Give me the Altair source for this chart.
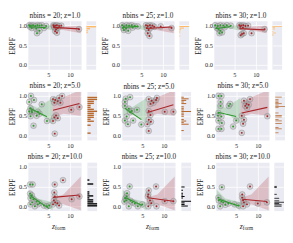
import altair as alt
import pandas as pd

# ---------------- data ----------------
NBINS = [20, 25, 30]
ZVALS = [1.0, 5.0, 10.0]

# row 1 : z = 1.0
r1c1_x = [0.6, 1.0, 1.5, 2.0, 2.5, 3.0, 3.5, 4.5, 1.2, 2.2, 3.0, 2.4, 0.8, 4.0,
          6.2, 6.6, 7.0, 7.5, 8.0, 6.4, 6.8, 7.2, 6.6, 7.0, 12.1, 6.3]
r1c1_y = [1.0, 0.99, 1.0, 0.98, 1.0, 0.99, 1.0, 0.98, 0.93, 0.91, 0.86, 0.8, 0.96, 0.93,
          1.0, 0.99, 1.0, 0.98, 0.99, 0.95, 0.9, 0.93, 0.85, 0.81, 0.9, 0.97]
r1c2_x = [0.6, 1.0, 1.6, 2.2, 2.8, 3.5, 4.2, 1.0, 1.5, 2.0, 0.8, 3.0,
          6.1, 6.5, 7.0, 7.6, 6.3, 6.7, 7.2, 6.5, 6.9, 8.0, 12.0, 9.5]
r1c2_y = [1.0, 0.97, 1.0, 0.99, 1.0, 0.98, 0.97, 0.88, 0.92, 0.86, 0.93, 0.94,
          1.0, 0.98, 1.0, 0.99, 0.93, 0.88, 0.94, 0.8, 0.73, 0.96, 0.93, 0.97]
r1c3_x = [0.6, 1.2, 1.8, 2.5, 3.3, 4.2, 1.0, 1.4, 1.8, 2.2, 1.6, 2.8,
          6.2, 6.6, 7.1, 7.6, 8.2, 6.4, 6.8, 7.2, 6.5, 9.0, 12.0, 7.0]
r1c3_y = [1.0, 0.98, 1.0, 0.99, 1.0, 0.99, 0.93, 0.9, 0.86, 0.82, 0.8, 0.95,
          1.0, 0.99, 1.0, 0.98, 0.99, 0.96, 0.78, 0.8, 0.75, 0.8, 0.9, 0.94]

# row 2 : z = 5.0
r2c1_x = [1.0, 1.7, 3.5, 0.9, 0.6, 1.25, 2.6, 0.9, 2.3, 1.6, 4.7, 1.2, 3.0, 0.6,
          6.1, 6.6, 7.2, 8.2, 6.4, 7.8, 10.3, 6.8, 6.4, 7.2, 6.1, 6.5, 7.5, 12.2]
r2c1_y = [1.0, 0.9, 0.79, 0.69, 0.61, 0.59, 0.6, 0.49, 0.5, 0.25, 0.37, 0.62, 0.55, 0.85,
          0.92, 0.9, 0.87, 1.0, 0.83, 0.83, 0.65, 0.51, 0.46, 0.44, 0.37, 0.05, 0.95, 0.72]
r2c2_x = [1.2, 1.0, 2.2, 1.0, 1.9, 2.2, 1.4, 1.0, 1.7, 2.9, 4.8, 3.8, 2.6,
          6.5, 7.2, 8.2, 6.9, 7.6, 8.4, 6.5, 10.2, 12.2, 6.5, 7.0, 6.2, 6.9, 6.5]
r2c2_y = [0.93, 0.85, 0.97, 0.75, 0.68, 0.59, 0.48, 0.38, 0.29, 0.38, 0.28, 0.65, 0.62,
          0.92, 0.88, 0.9, 0.8, 0.83, 0.95, 0.62, 0.6, 0.6, 0.4, 0.35, 0.29, 0.52, 0.12]
r2c3_x = [0.9, 1.6, 1.4, 1.4, 3.6, 3.3, 0.9, 0.8, 1.6, 0.9, 1.7, 0.9, 1.6, 4.3, 5.0,
          6.8, 7.4, 7.9, 8.2, 7.5, 7.1, 6.3, 6.8, 6.6, 6.3, 12.2]
r2c3_y = [1.0, 1.0, 0.85, 0.75, 0.8, 0.75, 0.57, 0.5, 0.48, 0.38, 0.32, 0.17, 0.17, 0.23, 0.38,
          0.88, 0.8, 0.78, 0.92, 0.7, 0.75, 0.5, 0.4, 0.3, 0.07, 0.49]

# row 3 : z = 10.0
r3c1_x = [0.8, 1.4, 0.8, 1.2, 0.9, 1.6, 2.3, 3.0, 4.0, 1.9, 0.9, 4.7, 5.2, 2.6, 1.3,
          6.5, 8.4, 6.4, 6.5, 6.3, 7.1, 6.1, 7.5, 10.4, 6.6, 12.2]
r3c1_y = [0.55, 0.55, 0.32, 0.28, 0.21, 0.18, 0.12, 0.08, 0.02, 0.0, 0.05, 0.0, 0.02, 0.05, 0.1,
          0.55, 0.66, 0.35, 0.25, 0.15, 0.08, 0.05, 0.02, 0.18, 0.1, 0.25]
r3c2_x = [2.1, 1.5, 1.4, 1.1, 1.3, 2.3, 2.7, 3.3, 1.9, 4.0, 5.0, 0.9,
          8.2, 6.5, 6.4, 6.3, 6.8, 7.1, 10.2, 12.2, 6.4, 8.3]
r3c2_y = [0.5, 0.33, 0.25, 0.2, 0.15, 0.14, 0.1, 0.07, 0.0, 0.0, 0.05, 0.12,
          0.5, 0.4, 0.3, 0.25, 0.15, 0.08, 0.13, 0.13, 0.0, 0.0]
r3c3_x = [1.7, 0.9, 1.0, 1.6, 2.0, 3.2, 1.3, 4.6, 5.6, 2.5,
          8.2, 6.4, 6.4, 6.6, 6.8, 10.0, 12.1, 6.6, 7.5]
r3c3_y = [0.48, 0.22, 0.15, 0.12, 0.1, 0.07, 0.0, 0.05, 0.02, 0.04,
          0.5, 0.3, 0.22, 0.15, 0.1, 0.07, 0.1, 0.0, 0.05]

PX = [[r1c1_x, r1c2_x, r1c3_x], [r2c1_x, r2c2_x, r2c3_x], [r3c1_x, r3c2_x, r3c3_x]]
PY = [[r1c1_y, r1c2_y, r1c3_y], [r2c1_y, r2c2_y, r2c3_y], [r3c1_y, r3c2_y, r3c3_y]]

# confidence bands per row (early / late groups)
band_early_x = [0.5, 2.5, 6.0]
band_late_x = [6.0, 8.5, 12.5]
band_early_lo = [[0.95, 0.96, 0.87], [0.50, 0.58, 0.30], [0.20, 0.12, -0.10]]
band_early_hi = [[1.01, 0.99, 1.00], [0.80, 0.70, 0.95], [0.42, 0.20, 0.10]]
band_late_lo = [[0.90, 0.88, 0.80], [0.45, 0.55, 0.50], [0.05, 0.05, -0.10]]
band_late_hi = [[0.97, 0.97, 0.99], [0.85, 0.97, 1.15], [0.22, 0.30, 0.75]]

HIST_COLORS = ["#fdbb6a", "#b8692e", "#000000"]

# ---------------- style ----------------
FONT = "Liberation Serif"
GREEN = "#2e9a2e"
RED = "#a8262a"
XDOM = [0.4, 12.7]
YDOM = [-0.12, 1.1]
W, H, WM = 55, 50, 10

color_enc = alt.Color("grp:N", scale=alt.Scale(domain=["early", "late"], range=[GREEN, RED]), legend=None)


def x_enc():
    return alt.X("x:Q", scale=alt.Scale(domain=XDOM, nice=False, zero=False),
                 axis=alt.Axis(values=[5, 10], format="d", title=None))


def y_enc(field="y:Q"):
    return alt.Y(field, scale=alt.Scale(domain=YDOM, nice=False, zero=False),
                 axis=alt.Axis(values=[0, 0.5, 1], format=".1f", title="ERPF"))


def panel(r, c):
    df = pd.DataFrame({"x": PX[r][c], "y": PY[r][c]})
    df["grp"] = ["early" if v < 5.8 else "late" for v in df["x"]]
    bdf = pd.DataFrame({
        "x": band_early_x + band_late_x,
        "lo": band_early_lo[r] + band_late_lo[r],
        "hi": band_early_hi[r] + band_late_hi[r],
        "grp": ["early"] * 3 + ["late"] * 3,
    })
    band = alt.Chart(bdf).mark_area(opacity=0.22, clip=True).encode(
        x=x_enc(), y=y_enc("lo:Q"), y2="hi:Q", color=color_enc)
    base = alt.Chart(df)
    rings = base.mark_circle(size=36, color="#a0a0a0", fillOpacity=0.35, stroke="#858585",
                             strokeOpacity=0.6, strokeWidth=0.7).encode(x=x_enc(), y=y_enc())
    dots = base.mark_circle(size=4, opacity=1).encode(x=x_enc(), y=y_enc(), color=color_enc)
    lines = base.transform_regression("x", "y", groupby=["grp"]).mark_line(strokeWidth=1.1).encode(
        x=x_enc(), y=y_enc(), color=color_enc)
    layers = [band, rings, dots, lines]
    if r == 2:
        tdf = pd.DataFrame({"t": ["z"]})
        zt = alt.Chart(tdf).mark_text(font=FONT, fontSize=8, fontStyle="italic", color="#262626",
                                      align="right").encode(
            x=alt.value(W / 2), y=alt.value(H + 16), text="t:N")
        sdf = pd.DataFrame({"t": ["form"]})
        st = alt.Chart(sdf).mark_text(font=FONT, fontSize=5.5, color="#262626", align="left").encode(
            x=alt.value(W / 2), y=alt.value(H + 18), text="t:N")
        layers += [zt, st]
    main = alt.layer(*layers).properties(
        width=W, height=H,
        title=alt.TitleParams(f"nbins = {NBINS[c]}; z={ZVALS[r]}", fontSize=7.5, font=FONT,
                              fontWeight="normal", offset=2, color="#1a1a1a"))
    marg = alt.Chart(df).mark_bar(color=HIST_COLORS[r], binSpacing=0.6).encode(
        y=alt.Y("y:Q", bin=alt.Bin(step=1.0 / NBINS[c], extent=[0, 1]),
                scale=alt.Scale(domain=YDOM, nice=False, zero=False),
                axis=alt.Axis(values=[0, 0.5, 1], labels=False, title=None)),
        x=alt.X("count():Q", axis=None, scale=alt.Scale(nice=False)),
    ).properties(width=WM, height=H)
    return alt.hconcat(main, marg, spacing=3)


rows = []
for r in range(3):
    rows.append(alt.hconcat(*[panel(r, c) for c in range(3)], spacing=5))

chart = alt.vconcat(*rows, spacing=4).properties(padding=0).configure_view(
    fill="#EAEAF2", stroke=None
).configure_axis(
    grid=True, gridColor="white", gridWidth=0.8, domain=False, ticks=False,
    labelFont=FONT, labelFontSize=6.5, labelColor="#262626", labelPadding=2,
    titleFont=FONT, titleFontSize=7.5, titleFontWeight="normal", titleColor="#262626", titlePadding=2
)

chart.save("out.html", embed_options={"renderer": "svg", "actions": False})
